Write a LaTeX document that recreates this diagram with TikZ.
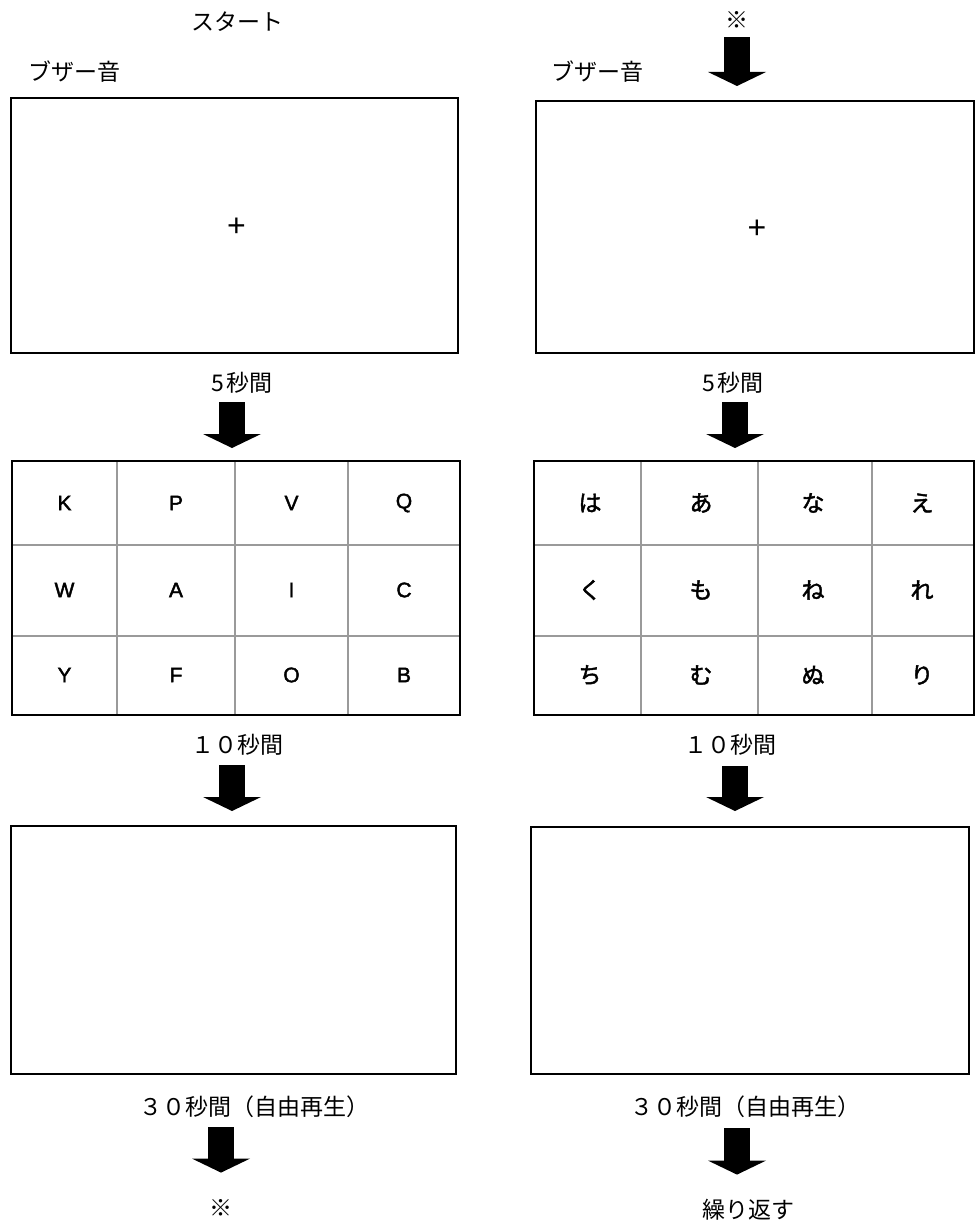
\documentclass[tikz,border=0pt]{standalone}
\usepackage{fontspec}
\usepackage{tikz}
\usetikzlibrary{arrows.meta,positioning}
\newfontfamily\jpfont{Noto Sans CJK JP}
\newfontfamily\kanafont{Noto Sans CJK JP}[FakeBold=2]
\newfontfamily\latinfont{Liberation Sans}[FakeBold=2]
\newfontfamily\plainsans{Liberation Sans}
\definecolor{cellgray}{HTML}{9A9A9A}

\begin{document}
\begin{tikzpicture}[
  x=0.5pt,y=-0.5pt,
  screen/.style={draw=black,line width=1pt,rectangle,inner sep=0pt},
  lab/.style={font=\jpfont\fontsize{11.5pt}{14pt}\selectfont,inner sep=0pt,text height=9.5pt,text depth=0.8pt},
  cell/.style={font=\latinfont\fontsize{10.5pt}{12pt}\selectfont,inner sep=0pt},
  kana/.style={font=\kanafont\fontsize{11.5pt}{13pt}\selectfont,inner sep=0pt},
  fixcross/.style={font=\plainsans\fontsize{16pt}{18pt}\selectfont,inner sep=0pt},
  cellline/.style={draw=cellgray,line width=0.6pt},
  fatarrow/.style={draw=black,line width=13pt,-{Triangle[length=7pt 0 0,width=29pt 0 0,line width=0pt]}}
]
\useasboundingbox (0,0) rectangle (976,1225);

% screens
\node[screen,minimum width=223.5pt,minimum height=127pt] (scrL1) at (234.5,225.5) {};
\node[screen,minimum width=219pt,minimum height=126pt] (scrR1) at (755,227) {};
\node[screen,minimum width=224pt,minimum height=127pt] (gridL) at (236,588) {};
\node[screen,minimum width=220pt,minimum height=127pt] (gridR) at (754,588) {};
\node[screen,minimum width=222.5pt,minimum height=124pt] (blankL) at (233.5,950) {};
\node[screen,minimum width=219pt,minimum height=123.5pt] (blankR) at (750,950.5) {};

\node[fixcross] (crossL) at ([xshift=1pt,yshift=-1pt]scrL1.center) {+};
\node[fixcross] (crossR) at ([xshift=1pt,yshift=-1pt]scrR1.center) {+};

% labels
\node[lab] (start) at (237,22) {スタート};
\node[lab] (buzzL) at (74,72) {ブザー音};
\node[lab] (buzzR) at (597,72) {ブザー音};
\node[lab] (refT) at (737,20) {※};
\node[lab] (t5L) at (242,383) {5\kern1.5pt 秒間};
\node[lab] (t5R) at (733,383) {5\kern1.5pt 秒間};
\node[lab] (t10L) at (237,745) {１０秒間};
\node[lab] (t10R) at (730,745) {１０秒間};
\node[lab] (t30L) at (254,1107) {３０秒間（自由再生）};
\node[lab] (t30R) at (745,1107) {３０秒間（自由再生）};
\node[lab] (refB) at (221,1208) {※};
\node[lab] (again) at (748,1210) {繰り返す};

% grid lines
\draw[cellline] (117,461) -- (117,715);
\draw[cellline] (235,461) -- (235,715);
\draw[cellline] (348,461) -- (348,715);
\draw[cellline] (12,545) -- (460,545);
\draw[cellline] (12,636) -- (460,636);
\draw[cellline] (641,461) -- (641,715);
\draw[cellline] (758,461) -- (758,715);
\draw[cellline] (872,461) -- (872,715);
\draw[cellline] (534,545) -- (974,545);
\draw[cellline] (534,636) -- (974,636);
\node[screen,minimum width=224pt,minimum height=127pt] at (gridL.center) {};
\node[screen,minimum width=220pt,minimum height=127pt] at (gridR.center) {};

% letters
\node[cell] (l11) at (64.5,503) {K};
\node[cell] (l12) at (176,503) {P};
\node[cell] (l13) at (291.5,503) {V};
\node[cell] (l14) at (404,503) {Q};
\node[cell] (l21) at (64.5,590) {W};
\node[cell] (l22) at (176,590) {A};
\node[cell] (l23) at (291.5,590) {I};
\node[cell] (l24) at (404,590) {C};
\node[cell] (l31) at (64.5,675) {Y};
\node[cell] (l32) at (176,675) {F};
\node[cell] (l33) at (291.5,675) {O};
\node[cell] (l34) at (404,675) {B};

\node[kana] (k11) at (590,503) {は};
\node[kana] (k12) at (701,503) {あ};
\node[kana] (k13) at (813,503) {な};
\node[kana] (k14) at (922,503) {え};
\node[kana] (k21) at (590,590) {く};
\node[kana] (k22) at (701,590) {も};
\node[kana] (k23) at (813,590) {ね};
\node[kana] (k24) at (922,590) {れ};
\node[kana] (k31) at (590,675) {ち};
\node[kana] (k32) at (701,675) {む};
\node[kana] (k33) at (813,675) {ぬ};
\node[kana] (k34) at (922,675) {り};

% arrows
\draw[fatarrow,shorten <=3.35pt,shorten >=7pt] (refT.south) -- (refT.south |- scrR1.north);
\draw[fatarrow,shorten <=4.35pt,shorten >=6pt] ([xshift=-5pt]t5L.south) -- ([xshift=-5pt]t5L.south |- gridL.north);
\draw[fatarrow,shorten <=4.35pt,shorten >=6pt] ([xshift=1pt]t5R.south) -- ([xshift=1pt]t5R.south |- gridR.north);
\draw[fatarrow,shorten <=4.85pt,shorten >=7pt] ([xshift=-2.5pt]t10L.south) -- ([xshift=-2.5pt]t10L.south |- blankL.north);
\draw[fatarrow,shorten <=5.35pt,shorten >=7.5pt] ([xshift=2.5pt]t10R.south) -- ([xshift=2.5pt]t10R.south |- blankR.north);
\draw[fatarrow,shorten <=4.85pt,shorten >=12.35pt] (refB.north |- t30L.south) -- (refB.north);
\draw[fatarrow,shorten <=5.35pt,shorten >=12.35pt] ([xshift=-5.5pt]again.north |- t30R.south) -- ([xshift=-5.5pt]again.north);
\end{tikzpicture}
\end{document}
